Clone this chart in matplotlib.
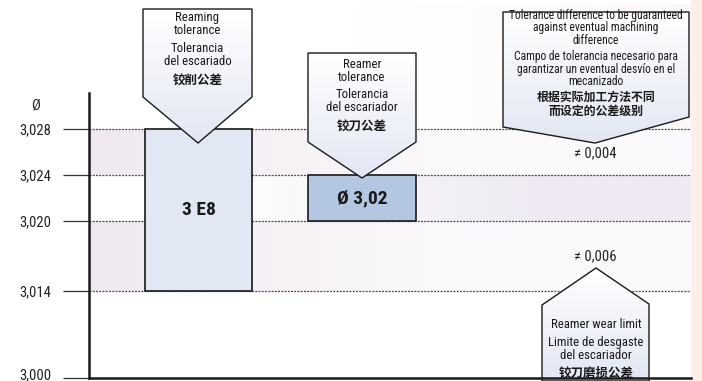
import numpy as np
import matplotlib
matplotlib.use("Agg")
import matplotlib.pyplot as plt
import matplotlib.transforms as mtransforms
from matplotlib import font_manager
from matplotlib.colors import LinearSegmentedColormap
from matplotlib.patches import Polygon, Rectangle


# =========================== DATA ================================== #

TICK_VALUES = [3.000, 3.014, 3.020, 3.024, 3.028]
TICK_LABELS = ["3,000", "3,014", "3,020", "3,024", "3,028"]
GRID_LEVELS = [3.014, 3.020, 3.024, 3.028]

BAR_LABELS = ["3 E8", "Ø 3,02"]
BAR_LOW = [3.014, 3.020]
BAR_HIGH = [3.028, 3.024]

DIFF_LABELS = ["≠ 0,004", "≠ 0,006"]

CALLOUT_TEXT = [
    ["Reaming\ntolerance", "Tolerancia\ndel escariado", "铰削公差"],
    ["Reamer\ntolerance", "Tolerancia\ndel escariador", "铰刀公差"],
    ["Tolerance difference to be guaranteed\nagainst eventual machining\ndifference",
     "Campo de tolerancia necesario para\ngarantizar un eventual desvío en el\nmecanizado",
     "根据实际加工方法不同\n而设定的公差级别"],
    ["Reamer wear limit", "Limite de desgaste\ndel escariador", "铰刀磨损公差"],
]

# =========================== LAYOUT ================================ #

W, H = 702, 381
AX_LEFT, AX_RIGHT = 89, 691          # px
AX_TOP, AX_BOTTOM = 4, 378           # px (from top)
Y_TOP = 3.0388
BREAK, K = 3.014, 0.54               # compressed part below 3,014

BAR_X = [198.5, 362]
BAR_W = [107, 108]
BAR_COLORS = ["#e1e7f3", "#b3c7e2"]

# callout outlines in pixel coordinates (x, y from top)
CALLOUTS = [
    [(143, 9), (252, 9), (252, 97), (198, 143), (143, 97)],
    [(308, 53), (416, 53), (416, 142), (362, 178), (308, 142)],
    [(503, 12), (689, 12), (689, 117), (595, 143), (503, 127)],
    [(596, 268), (649, 304), (649, 381), (542, 381), (542, 305)],
]
# (x centre, y centre) of each text group, pixel coordinates
CALLOUT_POS = [
    [(197.5, 24), (197.5, 55), (197.5, 81)],
    [(362, 71), (362, 101), (362, 127)],
    [(596, 28), (596, 69), (596, 104)],
    [(596, 325), (596, 349), (596, 373)],
]
CALLOUT_SIZE = [9.2, 9.2, 8.4, 9.2]
CJK_SIZE = [9.0, 9.0, 8.6, 9.0]
DIFF_POS = [(595, 153), (595, 256)]


def pick_font(candidates, fallback):
    names = {f.name for f in font_manager.fontManager.ttflist}
    for c in candidates:
        if c in names:
            return c, True
    return fallback, False


NARROW, IS_NARROW = pick_font(
    ["Liberation Sans Narrow", "Roboto Condensed", "Open Sans Condensed"],
    "Liberation Sans",
)
SCALE = 1.0 if IS_NARROW else 0.86
LATIN = [NARROW, "DejaVu Sans"]
CJK = ["Noto Sans CJK SC", "DejaVu Sans"]


def fwd(v):
    v = np.asarray(v, dtype=float)
    return np.where(v < BREAK, BREAK - (BREAK - v) * K, v)


def inv(u):
    u = np.asarray(u, dtype=float)
    return np.where(u < BREAK, BREAK - (BREAK - u) / K, u)


# =========================== FIGURE ================================ #

fig = plt.figure(figsize=(W / 100, H / 100), dpi=100, facecolor="white")
ax = fig.add_axes([
    AX_LEFT / W,
    (H - AX_BOTTOM) / H,
    (AX_RIGHT - AX_LEFT) / W,
    (AX_BOTTOM - AX_TOP) / H,
])
ax.set_facecolor("none")
ax.set_yscale("function", functions=(fwd, inv))
ax.set_xlim(AX_LEFT, AX_RIGHT)
ax.set_ylim(3.000, Y_TOP)
ax.set_autoscale_on(False)

# pixel transform: (x, y from top) -> display
pxT = mtransforms.Affine2D().scale(0.01, -0.01).translate(0, H / 100) \
    + fig.dpi_scale_trans

# peach strip on the right
fig.add_artist(Rectangle((AX_RIGHT / W, 0), 1 - AX_RIGHT / W, 1,
                         transform=fig.transFigure, facecolor="#fcefea",
                         edgecolor="none", zorder=0))

# background bands (cross-fading gradients)
xs = np.linspace(AX_LEFT, AX_RIGHT, 120)
t = (xs[:-1] - AX_LEFT) / (AX_RIGHT - AX_LEFT)
pink_fade = LinearSegmentedColormap.from_list("pf", ["#efe8ef", "#fbf9fb"])
lav_rise = LinearSegmentedColormap.from_list("lr", ["#ffffff", "#eee9f2"])
for lo, hi, cmap, vals in [
    (3.014, 3.020, pink_fade, np.clip(t / 0.6, 0, 1)),
    (3.024, 3.028, pink_fade, np.clip(t / 0.6, 0, 1)),
    (3.020, 3.024, lav_rise, np.clip((t - 0.15) / 0.6, 0, 1)),
]:
    ax.pcolormesh(xs, [lo, hi], vals[None, :], cmap=cmap, vmin=0, vmax=1,
                  shading="flat", zorder=0.5, edgecolors="none")
ax.pcolormesh(xs, [3.028, Y_TOP], np.clip((t - 0.4) / 0.6, 0, 1)[None, :],
              cmap=LinearSegmentedColormap.from_list("w", ["#ffffff", "#fdf8f6"]),
              vmin=0, vmax=1, shading="flat", zorder=0.4)

# dotted level lines
ax.hlines(GRID_LEVELS, AX_LEFT, AX_RIGHT, colors="#4a4a4a",
          linestyles=(0, (1.6, 1.0)), linewidth=0.9, zorder=1.5)

# tolerance bars
heights = [h - l for l, h in zip(BAR_LOW, BAR_HIGH)]
ax.bar(BAR_X, heights, bottom=BAR_LOW, width=BAR_W, color=BAR_COLORS,
       edgecolor="#1a1a1a", linewidth=1.2, zorder=2)
for x, lo, hi, lab in zip(BAR_X, BAR_LOW, BAR_HIGH, BAR_LABELS):
    ax.text(x, (lo + hi) / 2, lab, ha="center", va="center",
            fontsize=14 * SCALE, fontweight="bold", family=LATIN,
            color="#1a1a1a", zorder=4)

# callouts with vertical gradient fill
grad_cmap = LinearSegmentedColormap.from_list("g", ["#ffffff", "#e2e7f3"])
for i, pts in enumerate(CALLOUTS):
    xs_p = [p[0] for p in pts]
    ys_p = [p[1] for p in pts]
    poly = Polygon(pts, closed=True, transform=pxT, facecolor="none",
                   edgecolor="#1a1a1a", linewidth=1.0, zorder=3.2,
                   clip_on=False)
    ax.add_patch(poly)
    grad = np.linspace(0, 1, 64)[:, None]
    im = ax.imshow(grad, cmap=grad_cmap, aspect="auto", origin="upper",
                   extent=(min(xs_p), max(xs_p), max(ys_p), min(ys_p)),
                   transform=pxT, zorder=3, interpolation="bilinear")
    im.set_clip_path(poly)
    im.set_clip_box(None)

    for j, (txt, (cx, cy)) in enumerate(zip(CALLOUT_TEXT[i], CALLOUT_POS[i])):
        is_cjk = j == 2
        ax.text(cx, cy, txt, transform=pxT, ha="center", va="center",
                multialignment="center",
                family=CJK if is_cjk else LATIN,
                fontweight="bold" if is_cjk else "normal",
                fontsize=CJK_SIZE[i] if is_cjk else CALLOUT_SIZE[i] * SCALE,
                linespacing=1.15 if is_cjk else 0.95,
                color="#1a1a1a", zorder=3.5)

for lab, (cx, cy) in zip(DIFF_LABELS, DIFF_POS):
    ax.text(cx, cy, lab, transform=pxT, ha="center", va="center",
            family=LATIN, fontsize=10.5 * SCALE, color="#222222", zorder=3.5)

# axes styling
for side in ["top", "right"]:
    ax.spines[side].set_visible(False)
ax.spines["left"].set_linewidth(1.8)
ax.spines["left"].set_color("#1a1a1a")
ax.spines["left"].set_bounds(3.000, 3.0311)
ax.spines["bottom"].set_linewidth(1.8)
ax.spines["bottom"].set_color("#1a1a1a")
ax.spines["bottom"].set_zorder(5)

ax.set_xticks([])
ax.set_yticks(TICK_VALUES, TICK_LABELS)
ax.yaxis.set_minor_locator(matplotlib.ticker.NullLocator())
ax.tick_params(axis="y", direction="out", length=18.7, width=0.9,
               color="#333333", pad=8.5, labelsize=10.5 * SCALE,
               labelcolor="#222222")
for lab in ax.get_yticklabels():
    lab.set_family(LATIN)
# lowest label sits on the figure edge: lift it a little
low_lab = ax.get_yticklabels()[0]
low_lab.set_transform(low_lab.get_transform()
                      + mtransforms.ScaledTranslation(0, 4 / 100,
                                                      fig.dpi_scale_trans))

ax.text(36, 106, "Ø", transform=pxT, ha="center", va="center",
        family=LATIN, fontsize=10.5 * SCALE, color="#222222")

fig.savefig("out.png", dpi=100)
